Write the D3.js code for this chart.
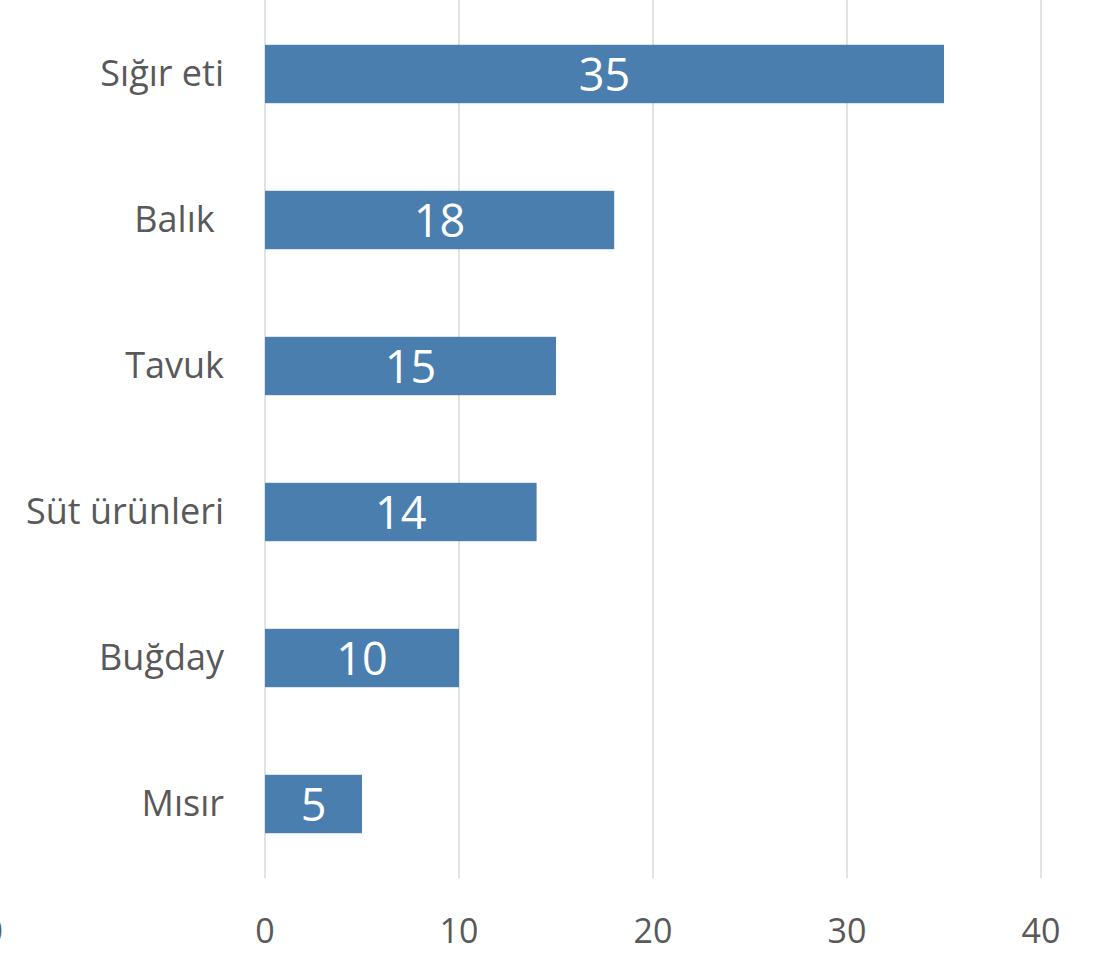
<!DOCTYPE html>
<html>
<head>
<meta charset="utf-8">
<script src="https://cdn.jsdelivr.net/npm/d3@7"></script>
<style>
body { margin: 0; background: #fff; }
svg text { font-family: "Open Sans", "Noto Sans", sans-serif; }
</style>
</head>
<body>
<svg id="chart"></svg>
<script>
let width = 1099;
let height = 954;

// veriler
let categories = ['Sığır eti', 'Balık ', 'Tavuk', 'Süt ürünleri', 'Buğday', 'Mısır'];
let values = [35, 18, 15, 14, 10, 5];
let ticks = [0, 10, 20, 30, 40];

let svg = d3.select('#chart')
    .attr('width', width)
    .attr('height', height);

let x = d3.scaleLinear().domain([0, 40]).range([265, 1041]);
let y = d3.scaleBand()
    .domain(categories)
    .range([1, 877])
    .paddingInner(0.6)
    .paddingOuter(0.3);

// ızgara çizgileri
svg.append('g')
    .selectAll('line')
    .data(ticks)
    .join('line')
    .attr('x1', d => x(d))
    .attr('x2', d => x(d))
    .attr('y1', 0)
    .attr('y2', 878)
    .attr('stroke', '#d9d9d9')
    .attr('stroke-width', 1.5);

// çubuklar
let data = categories.map((c, i) => ({cat: c, val: values[i]}));
svg.append('g')
    .selectAll('rect')
    .data(data)
    .join('rect')
    .attr('x', x(0))
    .attr('y', d => y(d.cat))
    .attr('width', d => x(d.val) - x(0))
    .attr('height', y.bandwidth())
    .attr('fill', '#4a7eae');

// değer etiketleri
svg.append('g')
    .selectAll('text')
    .data(data)
    .join('text')
    .attr('x', d => (x(0) + x(d.val)) / 2)
    .attr('y', d => y(d.cat) + y.bandwidth() / 2 + 17)
    .attr('text-anchor', 'middle')
    .attr('fill', '#fff')
    .style('font-size', '45px')
    .text(d => d.val);

// kategori etiketleri
svg.append('g')
    .selectAll('text')
    .data(categories)
    .join('text')
    .attr('x', 224)
    .attr('y', d => y(d) + y.bandwidth() / 2 + 12)
    .attr('text-anchor', 'end')
    .attr('fill', '#595959')
    .style('font-size', '36px')
    .style('white-space', 'pre')
    .text(d => d);

// eksen etiketleri
svg.append('g')
    .selectAll('text')
    .data(ticks)
    .join('text')
    .attr('x', d => x(d))
    .attr('y', 943)
    .attr('text-anchor', 'middle')
    .attr('fill', '#595959')
    .style('font-size', '34px')
    .text(d => d);

// soldan kesilmiş parça
svg.append('text')
    .attr('x', 3)
    .attr('y', 943)
    .attr('text-anchor', 'end')
    .attr('fill', '#595959')
    .style('font-size', '34px')
    .text('0');
</script>
</body>
</html>
